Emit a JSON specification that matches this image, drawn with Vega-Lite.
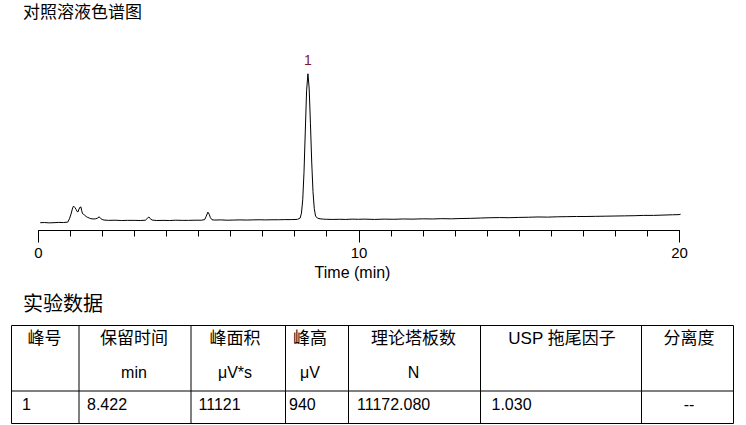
{
  "$schema": "https://vega.github.io/schema/vega-lite/v6.json",
  "background": "white",
  "padding": {"left": 10, "top": 4, "right": 0, "bottom": 0},
  "spacing": 95,
  "bounds": "flush",
  "config": {
    "font": "Liberation Sans, Noto Sans CJK SC",
    "view": {"stroke": null}
  },
  "datasets": {
    "trace": [
      {"t": 0.07, "v": 0}, {"t": 0.2, "v": 1}, {"t": 0.35, "v": -1}, {"t": 0.5, "v": 0}, {"t": 0.65, "v": 2},
      {"t": 0.8, "v": 1}, {"t": 0.93, "v": 4}, {"t": 0.98, "v": 25}, {"t": 1.03, "v": 55}, {"t": 1.08, "v": 95},
      {"t": 1.11, "v": 107}, {"t": 1.15, "v": 98}, {"t": 1.19, "v": 85}, {"t": 1.22, "v": 72}, {"t": 1.25, "v": 70},
      {"t": 1.28, "v": 88}, {"t": 1.31, "v": 100}, {"t": 1.34, "v": 101}, {"t": 1.36, "v": 80}, {"t": 1.39, "v": 58},
      {"t": 1.42, "v": 54}, {"t": 1.46, "v": 48}, {"t": 1.5, "v": 40}, {"t": 1.55, "v": 34}, {"t": 1.6, "v": 30},
      {"t": 1.65, "v": 26}, {"t": 1.72, "v": 24}, {"t": 1.8, "v": 25}, {"t": 1.86, "v": 30}, {"t": 1.91, "v": 38},
      {"t": 1.95, "v": 28}, {"t": 2.0, "v": 21}, {"t": 2.06, "v": 17}, {"t": 2.2, "v": 15}, {"t": 2.4, "v": 16},
      {"t": 2.6, "v": 14}, {"t": 2.8, "v": 15}, {"t": 3.0, "v": 15}, {"t": 3.2, "v": 14}, {"t": 3.35, "v": 16},
      {"t": 3.42, "v": 30}, {"t": 3.46, "v": 37}, {"t": 3.5, "v": 26}, {"t": 3.56, "v": 17}, {"t": 3.7, "v": 14},
      {"t": 3.9, "v": 15}, {"t": 4.1, "v": 14}, {"t": 4.3, "v": 16}, {"t": 4.5, "v": 15}, {"t": 4.7, "v": 15},
      {"t": 4.9, "v": 16}, {"t": 5.1, "v": 16}, {"t": 5.2, "v": 20}, {"t": 5.25, "v": 42}, {"t": 5.3, "v": 68},
      {"t": 5.34, "v": 55}, {"t": 5.38, "v": 32}, {"t": 5.43, "v": 19}, {"t": 5.5, "v": 17}, {"t": 5.7, "v": 18},
      {"t": 5.9, "v": 16}, {"t": 6.1, "v": 17}, {"t": 6.3, "v": 18}, {"t": 6.5, "v": 17}, {"t": 6.7, "v": 18},
      {"t": 6.9, "v": 19}, {"t": 7.1, "v": 18}, {"t": 7.3, "v": 19}, {"t": 7.5, "v": 19}, {"t": 7.7, "v": 20},
      {"t": 7.9, "v": 20}, {"t": 8.05, "v": 21}, {"t": 8.1, "v": 22}, {"t": 8.18, "v": 30}, {"t": 8.22, "v": 61},
      {"t": 8.26, "v": 147}, {"t": 8.3, "v": 325}, {"t": 8.34, "v": 590}, {"t": 8.38, "v": 849}, {"t": 8.422, "v": 959},
      {"t": 8.46, "v": 867}, {"t": 8.5, "v": 641}, {"t": 8.54, "v": 391}, {"t": 8.58, "v": 200}, {"t": 8.62, "v": 91},
      {"t": 8.66, "v": 43}, {"t": 8.72, "v": 29}, {"t": 8.8, "v": 25}, {"t": 8.9, "v": 23}, {"t": 9.0, "v": 22},
      {"t": 9.2, "v": 21}, {"t": 9.4, "v": 22}, {"t": 9.6, "v": 21}, {"t": 9.8, "v": 23}, {"t": 10.0, "v": 22},
      {"t": 10.2, "v": 23}, {"t": 10.5, "v": 21}, {"t": 10.8, "v": 23}, {"t": 11.1, "v": 22}, {"t": 11.4, "v": 24},
      {"t": 11.7, "v": 23}, {"t": 12.0, "v": 25}, {"t": 12.3, "v": 24}, {"t": 12.6, "v": 26}, {"t": 12.9, "v": 25},
      {"t": 13.2, "v": 27}, {"t": 13.5, "v": 28}, {"t": 13.8, "v": 30}, {"t": 14.1, "v": 32}, {"t": 14.4, "v": 33},
      {"t": 14.7, "v": 32}, {"t": 15.0, "v": 34}, {"t": 15.3, "v": 35}, {"t": 15.6, "v": 37}, {"t": 15.9, "v": 36},
      {"t": 16.2, "v": 38}, {"t": 16.5, "v": 39}, {"t": 16.8, "v": 40}, {"t": 17.1, "v": 40}, {"t": 17.4, "v": 41},
      {"t": 17.7, "v": 42}, {"t": 18.0, "v": 43}, {"t": 18.3, "v": 44}, {"t": 18.6, "v": 45}, {"t": 18.9, "v": 47},
      {"t": 19.2, "v": 47}, {"t": 19.5, "v": 49}, {"t": 19.8, "v": 51}, {"t": 20.0, "v": 52}, {"t": 20.05, "v": 55}
    ],
    "peaks": [{"t": 8.422, "v": 959, "label": "1"}],
    "cols": [{"c": 1}, {"c": 2}, {"c": 3}, {"c": 4}, {"c": 5}, {"c": 6}],
    "divider": [{"r": 3}],
    "header": [
      {"c": 0, "r": 1, "s": "峰号"},
      {"c": 1, "r": 1, "s": "保留时间"},
      {"c": 2, "r": 1, "s": "峰面积"},
      {"c": 3, "r": 1, "s": "峰高"},
      {"c": 4, "r": 1, "s": "理论塔板数"},
      {"c": 5, "r": 1, "s": "USP 拖尾因子"},
      {"c": 6, "r": 1, "s": "分离度"}
    ],
    "centered": [
      {"c": 1, "r": 2, "s": "min"},
      {"c": 2, "r": 2, "s": "μV*s"},
      {"c": 3, "r": 2, "s": "μV"},
      {"c": 4, "r": 2, "s": "N"},
      {"c": 6, "r": 4, "s": "--"}
    ],
    "cells": [
      {"c": 0, "r": 4, "s": "1"},
      {"c": 1, "r": 4, "s": "8.422"},
      {"c": 2, "r": 4, "s": "11121"},
      {"c": 3, "r": 4, "s": "940"},
      {"c": 4, "r": 4, "s": "11172.080"},
      {"c": 5, "r": 4, "s": "1.030"}
    ]
  },
  "vconcat": [
    {
      "width": 722,
      "height": 189,
      "title": {
        "text": "对照溶液色谱图",
        "anchor": "start",
        "frame": "group",
        "dx": 12,
        "offset": 19,
        "fontSize": 17,
        "fontWeight": "normal",
        "font": "Liberation Sans, Noto Sans CJK SC",
        "color": "#000000"
      },
      "layer": [
        {
          "data": {"name": "trace"},
          "mark": {"type": "line", "color": "#000000", "strokeWidth": 1},
          "encoding": {
            "x": {
              "field": "t",
              "type": "quantitative",
              "scale": {"domain": [0, 20], "range": [27, 668], "nice": false, "zero": false},
              "axis": {
                "orient": "bottom",
                "values": [0, 1, 2, 3, 4, 5, 6, 7, 8, 9, 10, 11, 12, 13, 14, 15, 16, 17, 18, 19, 20],
                "tickSize": 6,
                "labels": false,
                "title": null,
                "grid": false,
                "domainColor": "#000000",
                "tickColor": "#000000"
              }
            },
            "y": {
              "field": "v",
              "type": "quantitative",
              "scale": {"domain": [-47, 1170], "nice": false, "zero": false},
              "axis": null
            }
          }
        },
        {
          "data": {"name": "peaks"},
          "mark": {"type": "text", "color": "#7F1734", "fontSize": 14, "baseline": "bottom", "dy": -6, "font": "Liberation Sans"},
          "encoding": {
            "x": {
              "field": "t",
              "type": "quantitative",
              "scale": {"domain": [0, 20], "range": [27, 668], "nice": false, "zero": false},
              "axis": {
                "orient": "bottom",
                "values": [0, 10, 20],
                "tickSize": 12,
                "labelFontSize": 15,
                "labelFont": "Liberation Sans",
                "labelColor": "#000000",
                "labelPadding": 3,
                "labelFlush": false,
                "labelBound": false,
                "title": "Time (min)",
                "titleFont": "Liberation Sans",
                "titleFontSize": 16,
                "titleFontWeight": "normal",
                "titleColor": "#000000",
                "titlePadding": 4,
                "titleX": 341,
                "titleAlign": "center",
                "grid": false,
                "domainColor": "#000000",
                "tickColor": "#000000"
              }
            },
            "y": {
              "field": "v",
              "type": "quantitative",
              "scale": {"domain": [-47, 1170], "nice": false, "zero": false},
              "axis": null
            },
            "text": {"field": "label"}
          }
        }
      ],
      "resolve": {"axis": {"x": "independent"}}
    },
    {
      "width": 722,
      "height": 98,
      "view": {"stroke": "#000000", "strokeWidth": 1, "fill": null},
      "title": {
        "text": "实验数据",
        "anchor": "start",
        "frame": "group",
        "dx": 12,
        "offset": 10,
        "fontSize": 20,
        "fontWeight": "normal",
        "font": "Liberation Sans, Noto Sans CJK SC",
        "color": "#000000"
      },
      "layer": [
        {
          "data": {"name": "cols"},
          "mark": {"type": "rule", "color": "#000000", "strokeWidth": 1},
          "encoding": {
            "x": {
              "field": "c",
              "type": "quantitative",
              "scale": {"domain": [0, 1, 2, 3, 4, 5, 6, 7], "range": [0, 68, 180, 274.5, 337.5, 469.5, 630.5, 722], "nice": false, "zero": false},
              "axis": null
            }
          }
        },
        {
          "data": {"name": "divider"},
          "mark": {"type": "rule", "color": "#000000", "strokeWidth": 1},
          "encoding": {
            "y": {
              "field": "r",
              "type": "quantitative",
              "scale": {"domain": [0, 1, 2, 3, 4, 5], "range": [0, 14, 48, 66, 80, 98], "nice": false, "zero": false},
              "axis": null
            }
          }
        },
        {
          "data": {"name": "header"},
          "mark": {"type": "text", "align": "center", "baseline": "middle", "fontSize": 17, "color": "#000000"},
          "encoding": {
            "x": {
              "field": "c",
              "type": "quantitative",
              "scale": {"domain": [0, 1, 2, 3, 4, 5, 6], "range": [33.5, 123, 224, 299, 402.5, 551, 678], "nice": false, "zero": false},
              "axis": null
            },
            "y": {
              "field": "r",
              "type": "quantitative",
              "scale": {"domain": [0, 1, 2, 3, 4, 5], "range": [0, 14, 48, 66, 80, 98], "nice": false, "zero": false},
              "axis": null
            },
            "text": {"field": "s"}
          }
        },
        {
          "data": {"name": "centered"},
          "mark": {"type": "text", "align": "center", "baseline": "middle", "fontSize": 16, "color": "#000000"},
          "encoding": {
            "x": {
              "field": "c",
              "type": "quantitative",
              "scale": {"domain": [0, 1, 2, 3, 4, 5, 6], "range": [33.5, 123, 224, 299, 402.5, 551, 678], "nice": false, "zero": false},
              "axis": null
            },
            "y": {
              "field": "r",
              "type": "quantitative",
              "scale": {"domain": [0, 1, 2, 3, 4, 5], "range": [0, 14, 48, 66, 80, 98], "nice": false, "zero": false},
              "axis": null
            },
            "text": {"field": "s"}
          }
        },
        {
          "data": {"name": "cells"},
          "mark": {"type": "text", "align": "left", "baseline": "middle", "fontSize": 16, "color": "#000000"},
          "encoding": {
            "x": {
              "field": "c",
              "type": "quantitative",
              "scale": {"domain": [0, 1, 2, 3, 4, 5], "range": [11, 76, 187.5, 278, 346, 480.5], "nice": false, "zero": false},
              "axis": null
            },
            "y": {
              "field": "r",
              "type": "quantitative",
              "scale": {"domain": [0, 1, 2, 3, 4, 5], "range": [0, 14, 48, 66, 80, 98], "nice": false, "zero": false},
              "axis": null
            },
            "text": {"field": "s"}
          }
        }
      ],
      "resolve": {"scale": {"x": "independent"}}
    }
  ]
}
